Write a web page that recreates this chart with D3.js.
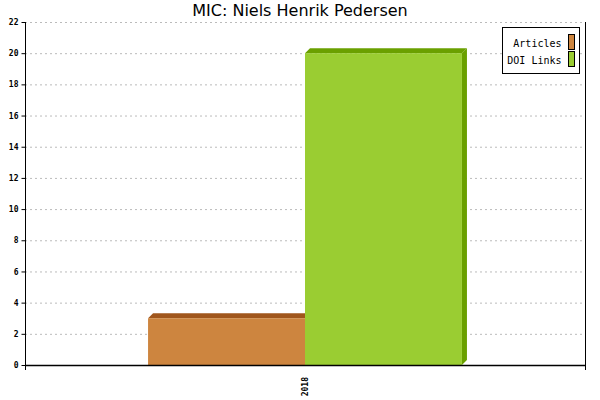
<!DOCTYPE html>
<html>
<head>
<meta charset="utf-8">
<script src="https://cdn.jsdelivr.net/npm/d3@7"></script>
<style>
  body { margin: 0; background: #fff; }
  svg { display: block; }
</style>
</head>
<body>
<div id="chart"></div>
<script>
// data
const years = ['2018']
const seriesNames = ['Articles', 'DOI Links']
const articles = [3]
const doiLinks = [20]
const yTicks = [0, 2, 4, 6, 8, 10, 12, 14, 16, 18, 20, 22]

const width = 600, height = 400
const margin = {top: 22, right: 15, bottom: 35, left: 25}
const depth = 5
const colors = {
    'Articles': {front: '#cd853f', dark: '#a0561c'},
    'DOI Links': {front: '#9acd32', dark: '#6aa000'}
}

const svg = d3.select('#chart').append('svg')
    .attr('width', width)
    .attr('height', height)

const x0 = d3.scaleBand()
    .domain(years)
    .range([margin.left, width - margin.right])
    .paddingInner(0)
    .paddingOuter(0.392)

const x1 = d3.scaleBand()
    .domain(seriesNames)
    .range([0, x0.bandwidth()])

const y = d3.scaleLinear()
    .domain([0, 22])
    .range([height - margin.bottom, margin.top])

const values = {'Articles': articles, 'DOI Links': doiLinks}

// grid
svg.append('g').selectAll('line.grid')
    .data(yTicks.filter(d => d > 0))
    .join('line')
    .attr('class', 'grid')
    .attr('x1', margin.left)
    .attr('x2', width - margin.right)
    .attr('y1', d => y(d) + 0.5)
    .attr('y2', d => y(d) + 0.5)
    .attr('stroke', '#bbb')
    .attr('stroke-dasharray', '2,3')

// bars (3d look: top face + right side + front face)
const gBars = svg.append('g')
seriesNames.forEach(name => {
    const c = colors[name]
    years.forEach((yr, i) => {
        const v = values[name][i]
        const bx = x0(yr) + x1(name)
        const bw = x1.bandwidth()
        const by = y(v)
        const by0 = y(0)
        // top face
        gBars.append('path')
            .attr('d', `M${bx},${by} L${bx + depth},${by - depth} L${bx + bw + depth},${by - depth} L${bx + bw},${by} Z`)
            .attr('fill', c.dark)
        // side face
        gBars.append('path')
            .attr('d', `M${bx + bw},${by} L${bx + bw + depth},${by - depth} L${bx + bw + depth},${by0 - depth} L${bx + bw},${by0} Z`)
            .attr('fill', c.dark)
        // front
        gBars.append('rect')
            .attr('x', bx)
            .attr('y', by)
            .attr('width', bw)
            .attr('height', by0 - by)
            .attr('fill', c.front)
    })
})

// axes
const yAxis = d3.axisLeft(y).tickValues(yTicks).tickSize(4).tickPadding(3)
const yAxisG = svg.append('g')
    .attr('transform', `translate(${margin.left + 0.5},0)`)
    .call(yAxis)
yAxisG.select('.domain').attr('d', `M0,${y(22)}V${y(0)}`)
yAxisG.selectAll('text')
    .style('font-family', 'DejaVu Sans Mono')
    .style('font-size', '8px')
    .style('font-weight', 'bold')

// right axis line
svg.append('line')
    .attr('x1', width - margin.right + 0.5)
    .attr('x2', width - margin.right + 0.5)
    .attr('y1', y(22))
    .attr('y2', y(0) + 5)
    .attr('stroke', '#000')

// x axis
svg.append('line')
    .attr('x1', margin.left)
    .attr('x2', width - margin.right)
    .attr('y1', y(0) + 0.5)
    .attr('y2', y(0) + 0.5)
    .attr('stroke', '#000')
    .attr('stroke-width', 1.5)
svg.append('line')
    .attr('x1', margin.left + 0.5)
    .attr('x2', margin.left + 0.5)
    .attr('y1', y(0))
    .attr('y2', y(0) + 5)
    .attr('stroke', '#000')

svg.append('g').selectAll('text.xlabel')
    .data(years)
    .join('text')
    .attr('class', 'xlabel')
    .attr('transform', d => `translate(${x0(d) + x0.bandwidth() / 2 + 3},${y(0) + 12}) rotate(-90)`)
    .attr('text-anchor', 'end')
    .style('font-family', 'DejaVu Sans Mono')
    .style('font-size', '8px')
    .style('font-weight', 'bold')
    .text(d => d)

// title
svg.append('text')
    .attr('x', 300)
    .attr('y', 16)
    .attr('text-anchor', 'middle')
    .style('font-family', 'DejaVu Sans')
    .style('font-size', '16px')
    .text('MIC: Niels Henrik Pedersen')

// legend
const legend = svg.append('g').attr('transform', 'translate(502.5,27.5)')
legend.append('rect')
    .attr('width', 77)
    .attr('height', 46)
    .attr('fill', '#fff')
    .attr('stroke', '#000')
const items = legend.selectAll('g.item').data(seriesNames).join('g')
    .attr('class', 'item')
    .attr('transform', (_, i) => `translate(0,${7 + i * 17})`)
items.append('rect')
    .attr('x', 66)
    .attr('y', 0)
    .attr('width', 6)
    .attr('height', 15)
    .attr('fill', d => colors[d].front)
    .attr('stroke', '#000')
items.append('text')
    .attr('x', 59)
    .attr('y', 12)
    .attr('text-anchor', 'end')
    .style('font-family', 'DejaVu Sans Mono')
    .style('font-size', '10px')
    .text(d => d)
</script>
</body>
</html>
